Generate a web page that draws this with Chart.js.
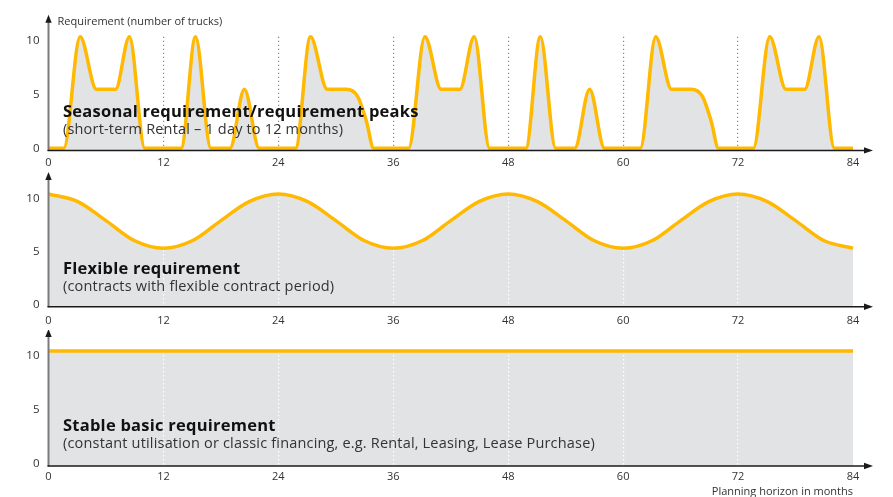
<!DOCTYPE html>
<html>
<head>
<meta charset="utf-8">
<script src="https://cdn.jsdelivr.net/npm/chart.js@4"></script>
<style>
  html,body{margin:0;padding:0;background:#fff;}
  #wrap{position:relative;width:893px;height:497px;overflow:hidden;font-family:"Open Sans",sans-serif;}
  .panel{position:absolute;left:0;width:893px;}
  .panel canvas{display:block;}
  .t{position:absolute;white-space:nowrap;line-height:1;}
  .h{font-weight:700;font-size:16.5px;letter-spacing:0.24px;color:#111;}
  .s{font-size:14.5px;letter-spacing:0.18px;color:#333;}
  .a{font-size:11px;color:#333;}
</style>
</head>
<body>
<div id="wrap">
  <div class="panel" style="top:0;height:170px"><canvas id="c1" width="893" height="170"></canvas></div>
  <div class="panel" style="top:170px;height:160px"><canvas id="c2" width="893" height="160"></canvas></div>
  <div class="panel" style="top:330px;height:167px"><canvas id="c3" width="893" height="167"></canvas></div>

  <div class="t a" style="left:57.5px;top:15.2px">Requirement (number of trucks)</div>
  <div class="t h" style="left:63px;top:103.4px">Seasonal requirement/requirement peaks</div>
  <div class="t s" style="left:63px;top:122.1px">(short-term Rental – 1 day to 12 months)</div>
  <div class="t h" style="left:63px;top:260.4px">Flexible requirement</div>
  <div class="t s" style="left:63px;top:278.8px">(contracts with flexible contract period)</div>
  <div class="t h" style="left:63px;top:417.4px">Stable basic requirement</div>
  <div class="t s" style="left:63px;top:435.9px">(constant utilisation or classic financing, e.g. Rental, Leasing, Lease Purchase)</div>
  <div class="t a" style="right:40px;top:484.5px">Planning horizon in months</div>
</div>
<script>
// ---------- data ----------
const xTicks = [0, 12, 24, 36, 48, 60, 72, 84];
const gridMonths = [12, 24, 36, 48, 60, 72];
const yTicks = [0, 5, 10];

// Seasonal requirement (number of trucks) by month
const seasonalMonths = [0, 1.6, 3.3, 5.0, 7.0, 8.45, 10.05, 13.85, 15.35, 16.95, 18.95, 20.45, 22.0, 25.8, 27.35, 29.1, 31.1, 32.3, 33.2, 33.95, 37.6, 39.3, 41.0, 42.95, 44.45, 46.05, 49.85, 51.35, 52.95, 54.95, 56.5, 58.05, 61.8, 63.4, 65.05, 67.1, 68.3, 69.2, 69.95, 73.6, 75.3, 77.0, 78.95, 80.45, 82.05, 84];
const seasonalValues = [0, 0, 10.4, 5.5, 5.5, 10.4, 0, 0, 10.4, 0, 0, 5.5, 0, 0, 10.4, 5.5, 5.5, 4.8, 2.5, 0, 0, 10.4, 5.5, 5.5, 10.4, 0, 0, 10.4, 0, 0, 5.5, 0, 0, 10.4, 5.5, 5.5, 4.8, 2.5, 0, 0, 10.4, 5.5, 5.5, 10.4, 0, 0];

// Flexible requirement by month
const flexibleMonths = [0, 3, 6, 9, 12, 15, 18, 21, 24, 27, 30, 33, 36, 39, 42, 45, 48, 51, 54, 57, 60, 63, 66, 69, 72, 75, 78, 81, 84];
const flexibleValues = [10.4, 9.7, 7.9, 6.0, 5.3, 6.0, 7.9, 9.7, 10.4, 9.7, 7.9, 6.0, 5.3, 6.0, 7.9, 9.7, 10.4, 9.7, 7.9, 6.0, 5.3, 6.0, 7.9, 9.7, 10.4, 9.7, 7.9, 6.0, 5.3];

// Stable basic requirement
const stableMonths = [0, 84];
const stableValues = [10.4, 10.4];

// ---------- style ----------
const YELLOW = '#FFB900';
const FILL = '#E2E3E4';
const FONT = '"Open Sans", sans-serif';

const arrowsPlugin = {
  id: 'arrowsAndLine',
  beforeDatasetDraw(chart, args) {
    if (args.index === 1) return false; // line is drawn after the grid
  },
  afterDraw(chart) {
    const ctx = chart.ctx;
    const a = chart.chartArea;
    const meta = chart.getDatasetMeta(1);
    if (meta && meta.dataset) meta.dataset.draw(ctx, a);
    ctx.save();
    // y axis
    const yTop = a.top - 20;
    ctx.strokeStyle = '#7a7a7a';
    ctx.lineWidth = 2;
    ctx.beginPath();
    ctx.moveTo(a.left, a.bottom + 0.5);
    ctx.lineTo(a.left, yTop + 4);
    ctx.stroke();
    ctx.fillStyle = '#1a1a1a';
    ctx.beginPath();
    ctx.moveTo(a.left, yTop - 2);
    ctx.lineTo(a.left - 3.2, yTop + 6);
    ctx.lineTo(a.left + 3.2, yTop + 6);
    ctx.closePath();
    ctx.fill();
    // x axis
    const xEnd = a.right + 20;
    ctx.strokeStyle = '#1a1a1a';
    ctx.lineWidth = 1.5;
    ctx.beginPath();
    ctx.moveTo(a.left - 1, a.bottom);
    ctx.lineTo(xEnd - 4, a.bottom);
    ctx.stroke();
    ctx.beginPath();
    ctx.moveTo(xEnd, a.bottom);
    ctx.lineTo(xEnd - 9, a.bottom - 3.2);
    ctx.lineTo(xEnd - 9, a.bottom + 3.2);
    ctx.closePath();
    ctx.fill();
    ctx.restore();
  }
};

function makeChart(id, months, values, opts) {
  const pts = months.map((m, i) => ({x: m, y: values[i]}));
  const canvas = document.getElementById(id);
  const H = canvas.height;
  return new Chart(canvas, {
    type: 'line',
    data: {
      datasets: [
        {data: pts, fill: 'start', backgroundColor: FILL, borderColor: 'rgba(0,0,0,0)', borderWidth: 0,
         pointRadius: 0, cubicInterpolationMode: 'monotone'},
        {data: pts, fill: false, borderColor: YELLOW, borderWidth: 3.5, borderCapStyle: 'butt', borderJoinStyle: 'round',
         pointRadius: 0, cubicInterpolationMode: 'monotone'}
      ]
    },
    options: {
      responsive: false,
      animation: false,
      devicePixelRatio: 1,
      events: [],
      layout: {padding: {top: opts.top, right: 40, left: 0, bottom: 0}},
      plugins: {legend: {display: false}, tooltip: {enabled: false}, title: {display: false}},
      scales: {
        x: {
          type: 'linear', min: 0, max: 84,
          afterBuildTicks: s => { s.ticks = xTicks.map(v => ({value: v})); },
          afterFit: s => { s.height = H - opts.bottom; },
          grid: {
            z: 1,
            drawTicks: false,
            lineWidth: 1.2,
            color: c => (c.tick && gridMonths.includes(c.tick.value)) ? opts.gridColor : 'rgba(0,0,0,0)'
          },
          border: {display: false, dash: [1.4, 2.6]},
          ticks: {padding: opts.xPad, color: '#333', font: {family: FONT, size: 11}, maxRotation: 0,
                  callback: v => String(v)}
        },
        y: {
          type: 'linear', min: -0.2, max: 10.4,
          afterBuildTicks: s => { s.ticks = yTicks.map(v => ({value: v})); },
          afterFit: s => { s.width = 48.5; },
          grid: {display: false, drawTicks: false},
          border: {display: false},
          ticks: {padding: 9, color: '#333', font: {family: FONT, size: 11.5}, callback: v => String(v)}
        }
      }
    },
    plugins: [arrowsPlugin]
  });
}

makeChart('c1', seasonalMonths, seasonalValues, {top: 36.7, bottom: 150.4, gridColor: '#8a8a8a', xPad: 5.5});
makeChart('c2', flexibleMonths, flexibleValues, {top: 24, bottom: 136.7, gridColor: '#ffffff', xPad: 7.5});
makeChart('c3', stableMonths, stableValues, {top: 21, bottom: 136, gridColor: '#ffffff', xPad: 4});
</script>
</body>
</html>
